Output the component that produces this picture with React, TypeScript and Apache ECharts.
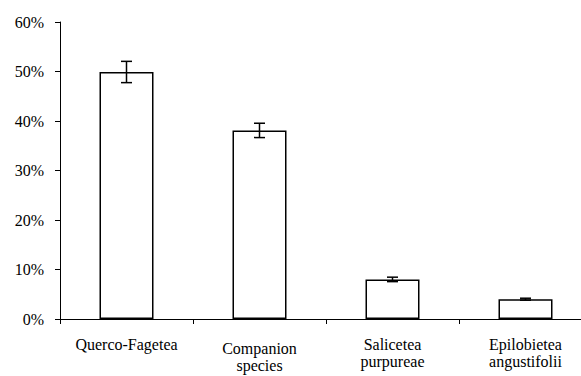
import React, { useEffect, useRef } from "react";
import * as echarts from "echarts";

const categories = ["Querco-Fagetea", "Companion\nspecies", "Salicetea\npurpureae", "Epilobietea\nangustifolii"];
const values = [49.9, 38.1, 8.0, 4.0];
const errors = [2.15, 1.45, 0.45, 0.2];
const yTicks = { min: 0, max: 60, interval: 10 };

export default function App() {
  const ref = useRef<HTMLDivElement>(null);
  useEffect(() => {
    if (!ref.current) return;
    const chart = echarts.init(ref.current, null, { renderer: "svg" });
    const font = "serif";
    chart.setOption({
      animation: false,
      backgroundColor: "#fff",
      textStyle: { fontFamily: font },
      grid: { left: 60, top: 22, right: -11, bottom: 57, outerBoundsMode: "none", containLabel: false },
      xAxis: {
        type: "category",
        data: categories.map((c, i) =>
          i === 1 ? { value: c, textStyle: { padding: [4, 0, 0, 0] } } : c
        ),
        axisLine: { lineStyle: { color: "#000", width: 1 } },
        axisTick: { show: true, length: 5, alignWithLabel: false, lineStyle: { color: "#000" } },
        axisLabel: {
          color: "#000",
          fontFamily: font,
          fontSize: 16,
          lineHeight: 17,
          margin: 17,
          interval: 0,
        },
      },
      yAxis: {
        type: "value",
        min: yTicks.min,
        max: yTicks.max,
        interval: yTicks.interval,
        axisLine: { show: true, lineStyle: { color: "#000", width: 1 } },
        axisTick: { show: true, length: 5, lineStyle: { color: "#000" } },
        splitLine: { show: false },
        axisLabel: {
          color: "#000",
          fontFamily: font,
          fontSize: 16,
          margin: 16,
          formatter: "{value}%",
        },
      },
      series: [
        {
          type: "bar",
          data: values,
          barWidth: 54,
          itemStyle: { color: "#fff", borderColor: "#000", borderWidth: 1.5 },
        },
        {
          type: "custom",
          data: values.map((v, i) => [i, v - errors[i], v + errors[i]]),
          z: 10,
          renderItem: (params: any, api: any) => {
            const x = api.value(0);
            const lo = api.coord([x, api.value(1)]);
            const hi = api.coord([x, api.value(2)]);
            const cx = lo[0];
            const hw = 5.5;
            const style = { stroke: "#000", lineWidth: 1.5 };
            return {
              type: "group",
              children: [
                { type: "line", shape: { x1: cx, y1: lo[1], x2: cx, y2: hi[1] }, style },
                { type: "line", shape: { x1: cx - hw, y1: lo[1], x2: cx + hw, y2: lo[1] }, style },
                { type: "line", shape: { x1: cx - hw, y1: hi[1], x2: cx + hw, y2: hi[1] }, style },
              ],
            };
          },
        },
      ],
    });
    return () => chart.dispose();
  }, []);
  return (
    <div
      ref={ref}
      style={{ position: "fixed", left: 0, top: 0, width: 581, height: 376, overflow: "hidden" }}
    />
  );
}
